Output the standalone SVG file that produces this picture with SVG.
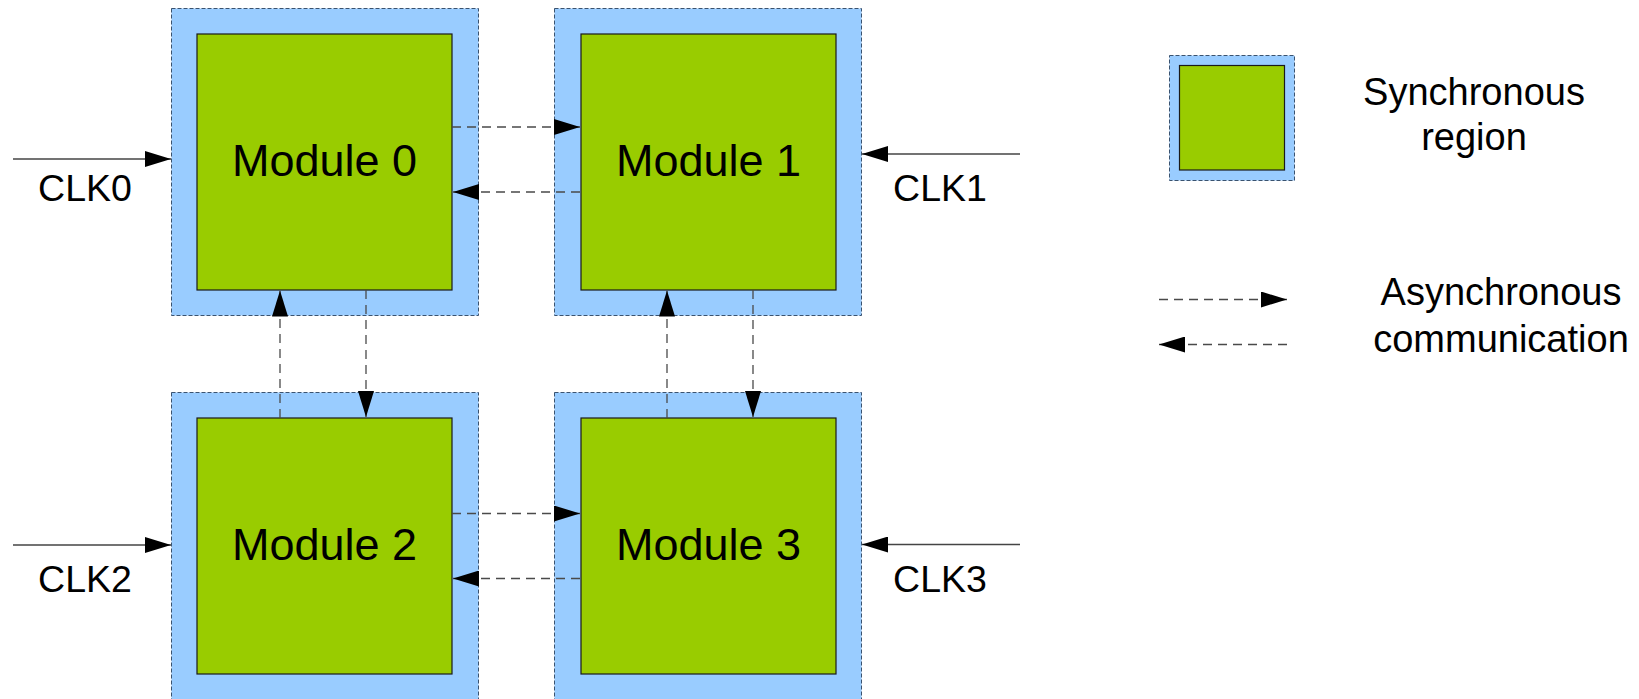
<svg xmlns="http://www.w3.org/2000/svg" width="1639" height="699" viewBox="0 0 1639 699">
<defs>
<marker id="ah" viewBox="0 0 26 16" refX="26" refY="8" markerWidth="26" markerHeight="16" markerUnits="userSpaceOnUse" orient="auto">
<path d="M0,0 L26,8 L0,16 Z" fill="#000"/>
</marker>
</defs>
<style>
.outer{fill:#99ccff;stroke:#3a5370;stroke-width:1;stroke-dasharray:4,2}
.inner{fill:#99cc00;stroke:#1a1a1a;stroke-width:1.2}
.lbl{font-family:"Liberation Sans",Arial,sans-serif;fill:#000}
.mod{font-size:45px}
.clk{font-size:37.5px}
.leg{font-size:38px}
.async{fill:none;stroke:#4a4a4a;stroke-width:1.3;stroke-dasharray:9,6}
.clkl{fill:none;stroke:#444;stroke-width:1.3}
</style>
<rect width="1639" height="699" fill="#fff"/>
<g id="module0">
<rect class="outer" x="171.5" y="8.5" width="307" height="307"/>
<rect class="inner" x="197" y="34" width="255" height="256"/>
<text class="lbl mod" x="324.5" y="176" text-anchor="middle">Module 0</text>
</g>
<g id="module1">
<rect class="outer" x="554.5" y="8.5" width="307" height="307"/>
<rect class="inner" x="581" y="34" width="255" height="256"/>
<text class="lbl mod" x="708.5" y="176" text-anchor="middle">Module 1</text>
</g>
<g id="module2">
<rect class="outer" x="171.5" y="392.5" width="307" height="307"/>
<rect class="inner" x="197" y="418" width="255" height="256"/>
<text class="lbl mod" x="324.5" y="560" text-anchor="middle">Module 2</text>
</g>
<g id="module3">
<rect class="outer" x="554.5" y="392.5" width="307" height="307"/>
<rect class="inner" x="581" y="418" width="255" height="256"/>
<text class="lbl mod" x="708.5" y="560" text-anchor="middle">Module 3</text>
</g>
<g id="clk-labels">
<text class="lbl clk" x="85" y="201" text-anchor="middle">CLK0</text>
<text class="lbl clk" x="940" y="201" text-anchor="middle">CLK1</text>
<text class="lbl clk" x="85" y="592" text-anchor="middle">CLK2</text>
<text class="lbl clk" x="940" y="592" text-anchor="middle">CLK3</text>
</g>
<g id="connectors">
<line class="clkl" x1="13" y1="159" x2="171" y2="159" marker-end="url(#ah)"/>
<line class="clkl" x1="1020" y1="154" x2="862" y2="154" marker-end="url(#ah)"/>
<line class="clkl" x1="13" y1="545" x2="171" y2="545" marker-end="url(#ah)"/>
<line class="clkl" x1="1020" y1="544.5" x2="862" y2="544.5" marker-end="url(#ah)"/>
<line class="async" x1="452" y1="127" x2="580" y2="127" marker-end="url(#ah)"/>
<line class="async" x1="580" y1="192" x2="453" y2="192" marker-end="url(#ah)"/>
<line class="async" x1="452" y1="513.5" x2="580" y2="513.5" marker-end="url(#ah)"/>
<line class="async" x1="580" y1="578.5" x2="453" y2="578.5" marker-end="url(#ah)"/>
<line class="async" x1="280" y1="418" x2="280" y2="290.5" marker-end="url(#ah)"/>
<line class="async" x1="366" y1="290" x2="366" y2="417" marker-end="url(#ah)"/>
<line class="async" x1="667" y1="418" x2="667" y2="290.5" marker-end="url(#ah)"/>
<line class="async" x1="753" y1="290" x2="753" y2="417" marker-end="url(#ah)"/>
</g>
<g id="legend-sync">
<rect class="outer" x="1169.5" y="55.5" width="125" height="125"/>
<rect class="inner" x="1179.5" y="65.5" width="105" height="104.5"/>
<text class="lbl leg" x="1474" y="105" text-anchor="middle">Synchronous</text>
<text class="lbl leg" x="1474" y="150" text-anchor="middle">region</text>
</g>
<g id="legend-async">
<line class="async" x1="1159" y1="299.5" x2="1287" y2="299.5" marker-end="url(#ah)"/>
<line class="async" x1="1287" y1="344.5" x2="1159" y2="344.5" marker-end="url(#ah)"/>
<text class="lbl leg" x="1501" y="305" text-anchor="middle">Asynchronous</text>
<text class="lbl leg" x="1501" y="352" text-anchor="middle">communication</text>
</g>
</svg>
